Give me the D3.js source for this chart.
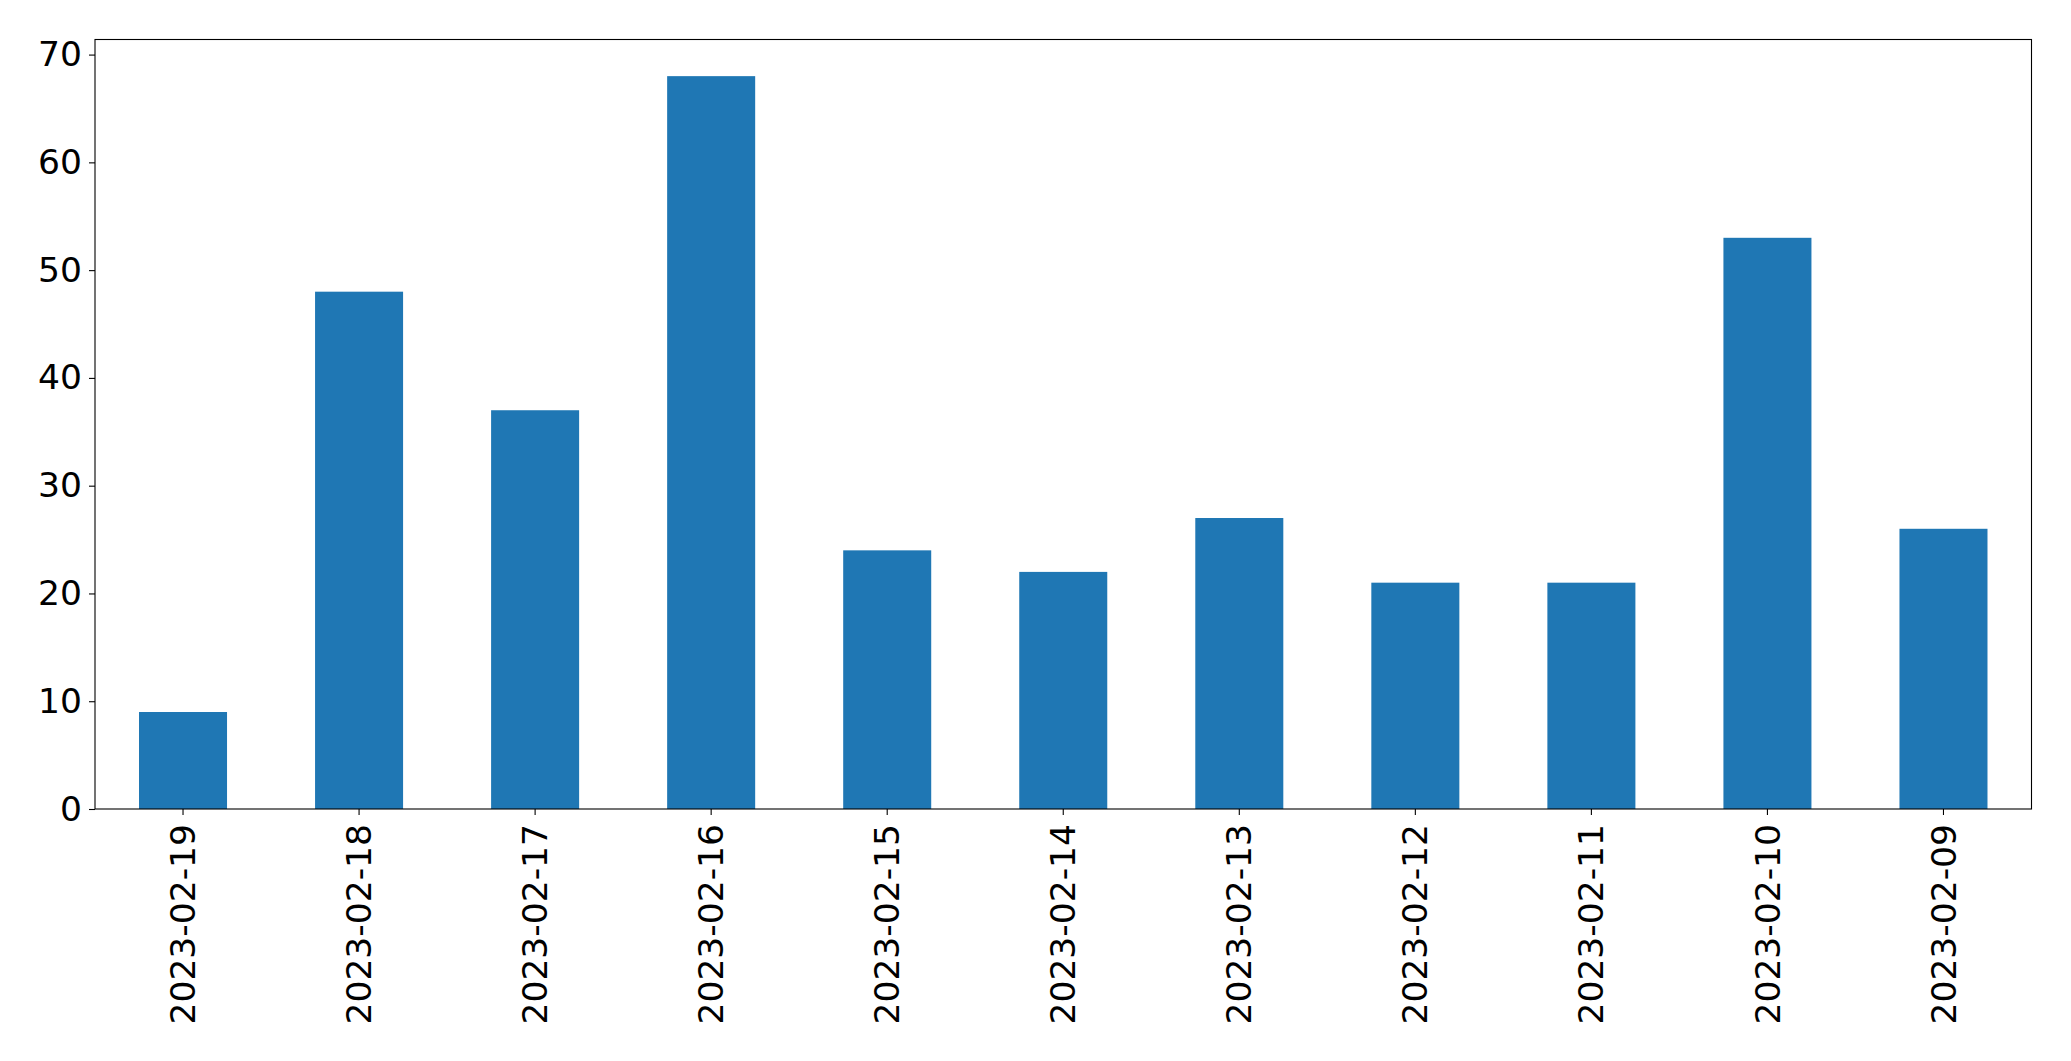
<!DOCTYPE html>
<html><head><meta charset="utf-8">
<script src="https://cdn.jsdelivr.net/npm/d3@7"></script>
<style>body{margin:0;background:#fff}svg{display:block}text{font-family:"DejaVu Sans",sans-serif}</style>
</head><body>
<script>
const categories = ["2023-02-19","2023-02-18","2023-02-17","2023-02-16","2023-02-15","2023-02-14","2023-02-13","2023-02-12","2023-02-11","2023-02-10","2023-02-09"];
const values = [9,48,37,68,24,22,27,21,21,53,26];
const yTicks = [0,10,20,30,40,50,60,70];

const W=2071,H=1061;
const m={left:95,right:2031.5,top:39.5,bottom:809};
const svg=d3.select("body").append("svg").attr("width",W).attr("height",H);
const x=d3.scaleBand().domain(categories).range([m.left,m.right]).paddingInner(0.5).paddingOuter(0.25);
const y=d3.scaleLinear().domain([0,68*1.05]).range([m.bottom,m.top]);

svg.selectAll("rect.bar").data(values).join("rect").attr("class","bar")
  .attr("x",(d,i)=>x(categories[i])).attr("width",x.bandwidth())
  .attr("y",d=>y(d)).attr("height",d=>y(0)-y(d)).attr("fill","#1f77b4");

const ya=svg.append("g").attr("transform",`translate(${m.left},0)`)
  .call(d3.axisLeft(y).tickValues(yTicks).tickSize(6).tickPadding(7).tickSizeOuter(0));
ya.select(".domain").remove();
ya.selectAll("text").attr("font-size",34.5).attr("font-family","DejaVu Sans").attr("fill","#000");
ya.selectAll("line").attr("stroke","#000").attr("stroke-width",1.1);

const xa=svg.append("g").attr("transform",`translate(0,${m.bottom})`)
  .call(d3.axisBottom(x).tickSize(6).tickPadding(7).tickSizeOuter(0));
xa.select(".domain").remove();
xa.selectAll("line").attr("stroke","#000").attr("stroke-width",1.1);
xa.selectAll("text").attr("font-size",34.5).attr("font-family","DejaVu Sans").attr("fill","#000")
  .attr("transform","rotate(-90)").attr("text-anchor","end").attr("x",-15).attr("y",0).attr("dy","0.35em");

svg.append("rect").attr("x",m.left).attr("y",m.top).attr("width",m.right-m.left).attr("height",m.bottom-m.top)
  .attr("fill","none").attr("stroke","#000").attr("stroke-width",1.1);
</script>
</body></html>
